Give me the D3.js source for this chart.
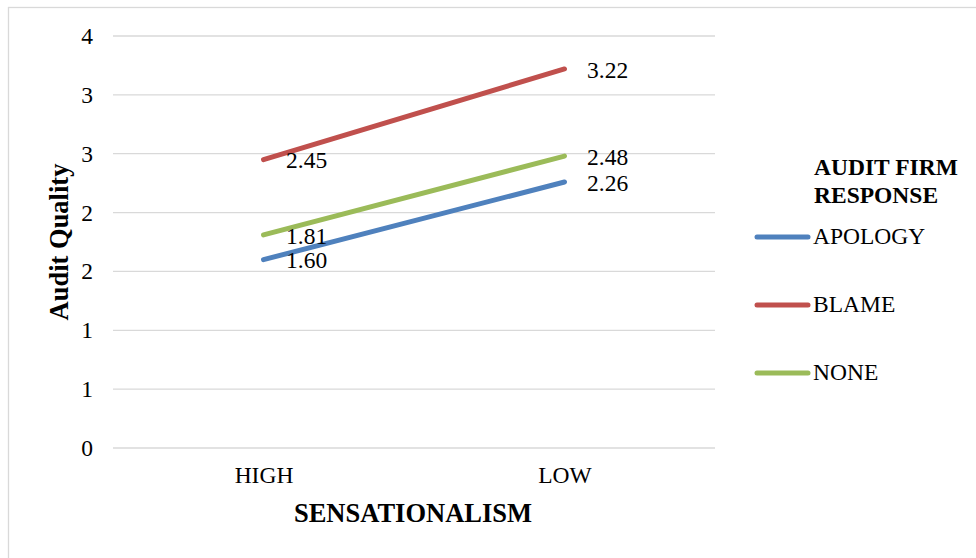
<!DOCTYPE html>
<html>
<head>
<meta charset="utf-8">
<script src="https://cdn.jsdelivr.net/npm/d3@7"></script>
<style>
  html, body { margin: 0; padding: 0; background: #fff; }
  svg { display: block; }
  text { font-family: "Liberation Serif", "Times New Roman", serif; fill: #000; }
</style>
</head>
<body>
<svg id="chart" width="976" height="558"></svg>
<script>
// Sensationalism levels on the x axis
const categories = ["HIGH", "LOW"];
// Audit firm response groups
const seriesNames = ["APOLOGY", "BLAME", "NONE"];
const seriesColors = ["#4F81BD", "#C0504D", "#9BBB59"];
// Mean audit quality per group, HIGH then LOW
const apologyValues = [1.60, 2.26];
const blameValues = [2.45, 3.22];
const noneValues = [1.81, 2.48];
// Y axis ticks and the labels shown for them
const yTickValues = [0, 0.5, 1, 1.5, 2, 2.5, 3, 3.5];
const yTickLabels = ["0", "1", "1", "2", "2", "3", "3", "4"];

const series = [apologyValues, blameValues, noneValues].map((vals, i) => ({
  name: seriesNames[i],
  color: seriesColors[i],
  points: categories.map((c, j) => ({ cat: c, value: vals[j] }))
}));

const svg = d3.select("#chart");

// outer chart border
svg.append("rect")
  .attr("x", 8.5).attr("y", 7.5)
  .attr("width", 1000).attr("height", 600)
  .attr("fill", "none").attr("stroke", "#D9D9D9").attr("stroke-width", 1.3);

const plot = { left: 113, right: 715, top: 36, bottom: 448 };

const x = d3.scalePoint().domain(categories)
  .range([plot.left, plot.right]).padding(0.5);
const y = d3.scaleLinear().domain([0, 3.5])
  .range([plot.bottom, plot.top]);

// gridlines
svg.append("g").selectAll("line").data(yTickValues).join("line")
  .attr("x1", plot.left).attr("x2", plot.right)
  .attr("y1", d => y(d)).attr("y2", d => y(d))
  .attr("stroke", "#D9D9D9").attr("stroke-width", 1.3);

// y axis labels
const yAxis = d3.axisLeft(y).tickValues(yTickValues)
  .tickFormat((d, i) => yTickLabels[i]).tickSize(0).tickPadding(0);
const yg = svg.append("g").attr("transform", `translate(${plot.left - 20},0)`).call(yAxis);
yg.select(".domain").remove();
yg.selectAll("text")
  .style("font-family", '"Liberation Serif", "Times New Roman", serif')
  .style("font-size", "23.5px").attr("fill", "#000")
  .attr("dy", "0.32em");

// x axis labels
const xAxis = d3.axisBottom(x).tickSize(0).tickPadding(0);
const xg = svg.append("g").attr("transform", `translate(0,${plot.bottom})`).call(xAxis);
xg.select(".domain").remove();
xg.selectAll("text")
  .style("font-family", '"Liberation Serif", "Times New Roman", serif')
  .style("font-size", "23.5px").attr("fill", "#000")
  .attr("y", 35).attr("dy", 0);

// axis titles
svg.append("text")
  .attr("x", 413).attr("y", 522)
  .attr("text-anchor", "middle")
  .style("font-size", "26.5px").style("font-weight", "bold")
  .text("SENSATIONALISM");

svg.append("text")
  .attr("transform", "translate(68,242) rotate(-90)")
  .attr("text-anchor", "middle")
  .style("font-size", "26.5px").style("font-weight", "bold")
  .text("Audit Quality");

// series lines
const line = d3.line().x(d => x(d.cat)).y(d => y(d.value));
svg.append("g").selectAll("path").data(series).join("path")
  .attr("d", d => line(d.points))
  .attr("fill", "none")
  .attr("stroke", d => d.color)
  .attr("stroke-width", 5)
  .attr("stroke-linecap", "round");

// value labels to the right of each point
const labels = svg.append("g");
series.forEach(s => {
  labels.selectAll(null).data(s.points).join("text")
    .attr("x", d => x(d.cat) + 22.5)
    .attr("y", d => y(d.value))
    .attr("dy", "0.37em")
    .style("font-size", "23.5px")
    .text(d => d.value.toFixed(2));
});

// legend
const legend = svg.append("g");
legend.append("text")
  .attr("x", 814).attr("y", 175)
  .style("font-size", "23.5px").style("font-weight", "bold")
  .text("AUDIT FIRM");
legend.append("text")
  .attr("x", 814).attr("y", 203)
  .style("font-size", "23.5px").style("font-weight", "bold")
  .text("RESPONSE");

const legendY = d3.scalePoint().domain(seriesNames).range([237, 373]);
const items = legend.selectAll("g.item").data(series).join("g")
  .attr("class", "item")
  .attr("transform", d => `translate(0,${legendY(d.name)})`);
items.append("line")
  .attr("x1", 757).attr("x2", 808)
  .attr("stroke", d => d.color).attr("stroke-width", 5)
  .attr("stroke-linecap", "round");
items.append("text")
  .attr("x", 813).attr("y", 0).attr("dy", "0.3em")
  .style("font-size", "23.5px")
  .text(d => d.name);
</script>
</body>
</html>
